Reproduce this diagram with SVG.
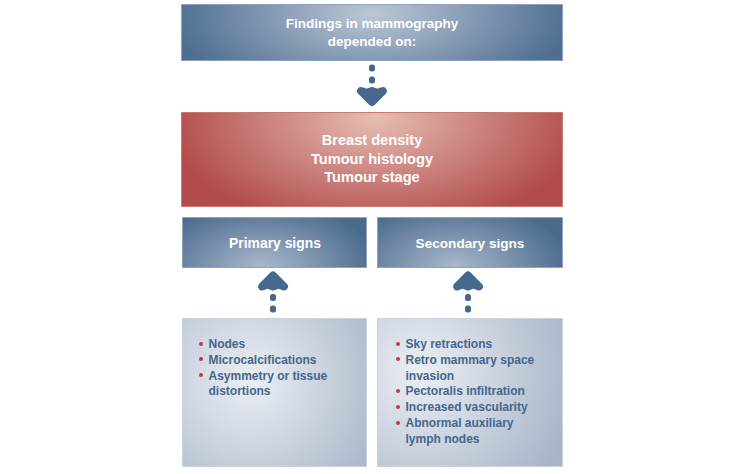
<svg xmlns="http://www.w3.org/2000/svg" width="740" height="474" viewBox="0 0 740 474">
<defs>
<radialGradient id="gTop" gradientUnits="userSpaceOnUse" cx="372" cy="14" r="200" gradientTransform="translate(372 14) scale(1 0.45) translate(-372 -14)">
<stop offset="0" stop-color="#bcc7d5"/><stop offset="1" stop-color="#4e6e91"/>
</radialGradient>
<radialGradient id="gRed" gradientUnits="userSpaceOnUse" cx="375" cy="118" r="210" gradientTransform="translate(375 118) scale(1 0.55) translate(-375 -118)">
<stop offset="0" stop-color="#e6bdb2"/><stop offset="1" stop-color="#b14a4a"/>
</radialGradient>
<radialGradient id="gP" gradientUnits="userSpaceOnUse" cx="262" cy="266" r="115" gradientTransform="translate(262 266) scale(1 0.55) translate(-262 -266)">
<stop offset="0" stop-color="#a9b7ca"/><stop offset="1" stop-color="#4b6b8e"/>
</radialGradient>
<radialGradient id="gS" gradientUnits="userSpaceOnUse" cx="455" cy="266" r="115" gradientTransform="translate(455 266) scale(1 0.55) translate(-455 -266)">
<stop offset="0" stop-color="#a9b7ca"/><stop offset="1" stop-color="#4b6b8e"/>
</radialGradient>
<radialGradient id="gL1" gradientUnits="userSpaceOnUse" cx="250" cy="380" r="150">
<stop offset="0" stop-color="#eceff4"/><stop offset="1" stop-color="#a6b5c8"/>
</radialGradient>
<radialGradient id="gL2" gradientUnits="userSpaceOnUse" cx="420" cy="370" r="160">
<stop offset="0" stop-color="#eceff4"/><stop offset="1" stop-color="#a6b5c8"/>
</radialGradient>
<g id="dn" fill="#45688c">
<rect x="-3" y="-15.5" width="6" height="7" rx="2.5"/>
<rect x="-3" y="-3.5" width="6" height="7" rx="2.5"/>
<polygon points="-11,11 -5.5,13 0,11 5.5,13 11,11 0,22" stroke="#45688c" stroke-width="8" stroke-linejoin="round"/>
</g>
<g id="up" fill="#45688c">
<polygon points="-11,-10.5 0,-21.5 11,-10.5 5.5,-12.5 0,-10.5 -5.5,-12.5" stroke="#45688c" stroke-width="8" stroke-linejoin="round"/>
<rect x="-3" y="-3" width="6" height="7" rx="2.5"/>
<rect x="-3" y="8.5" width="6" height="7" rx="2.5"/>
</g>
</defs>
<style>
.hd{font-family:"Liberation Sans",Arial,sans-serif;font-weight:bold;fill:#ffffff;text-anchor:middle}
.li{font-family:"Liberation Sans",Arial,sans-serif;font-weight:bold;font-size:12px;fill:#44668c}
.bl{fill:#c2393c}
.bx{stroke-width:1}
</style>
<g id="node-findings">
<rect x="181.5" y="4.5" width="381" height="56" fill="url(#gTop)" stroke="#8fa3ba" class="bx"/>
<text class="hd" font-size="13.5" x="372" y="27.5">Findings in mammography</text>
<text class="hd" font-size="13.5" x="372" y="45.5">depended on:</text>
</g>
<g id="node-factors">
<rect x="181.5" y="112.5" width="381" height="94" fill="url(#gRed)" stroke="#c57b74" class="bx"/>
<text class="hd" font-size="14.6" x="372" y="145" fill="#fdf1ec">Breast density</text>
<text class="hd" font-size="14.6" x="372" y="163.5">Tumour histology</text>
<text class="hd" font-size="14.6" x="372" y="182">Tumour stage</text>
</g>
<g id="node-primary">
<rect x="182.5" y="217.5" width="184" height="50" fill="url(#gP)" stroke="#8fa3ba" class="bx"/>
<text class="hd" font-size="13.9" x="275" y="247.5">Primary signs</text>
</g>
<g id="node-secondary">
<rect x="377.5" y="217.5" width="185" height="50" fill="url(#gS)" stroke="#8fa3ba" class="bx"/>
<text class="hd" font-size="13.6" x="470" y="247.5">Secondary signs</text>
</g>
<g id="node-primary-list">
<rect x="182.5" y="318.5" width="184" height="148" fill="url(#gL1)" stroke="#c9d2dd" class="bx"/>
<circle class="bl" cx="201" cy="344" r="2"/>
<circle class="bl" cx="201" cy="359" r="2"/>
<circle class="bl" cx="201" cy="375" r="2"/>
<text class="li" x="208.5" y="348">Nodes</text>
<text class="li" x="208.5" y="363.5">Microcalcifications</text>
<text class="li" x="208.5" y="379.5">Asymmetry or tissue</text>
<text class="li" x="208.5" y="395">distortions</text>
</g>
<g id="node-secondary-list">
<rect x="377.5" y="318.5" width="185" height="148" fill="url(#gL2)" stroke="#c9d2dd" class="bx"/>
<circle class="bl" cx="398" cy="344" r="2"/>
<circle class="bl" cx="398" cy="359" r="2"/>
<circle class="bl" cx="398" cy="391" r="2"/>
<circle class="bl" cx="398" cy="407" r="2"/>
<circle class="bl" cx="398" cy="423" r="2"/>
<text class="li" x="405.5" y="348">Sky retractions</text>
<text class="li" x="405.5" y="363.5">Retro mammary space</text>
<text class="li" x="405.5" y="379.5">invasion</text>
<text class="li" x="405.5" y="395">Pectoralis infiltration</text>
<text class="li" x="405.5" y="411">Increased vascularity</text>
<text class="li" x="405.5" y="427">Abnormal auxiliary</text>
<text class="li" x="405.5" y="443">lymph nodes</text>
</g>
<g id="connectors">
<use href="#dn" x="372" y="80"/>
<use href="#up" x="273" y="297"/>
<use href="#up" x="468" y="297"/>
</g>
</svg>
